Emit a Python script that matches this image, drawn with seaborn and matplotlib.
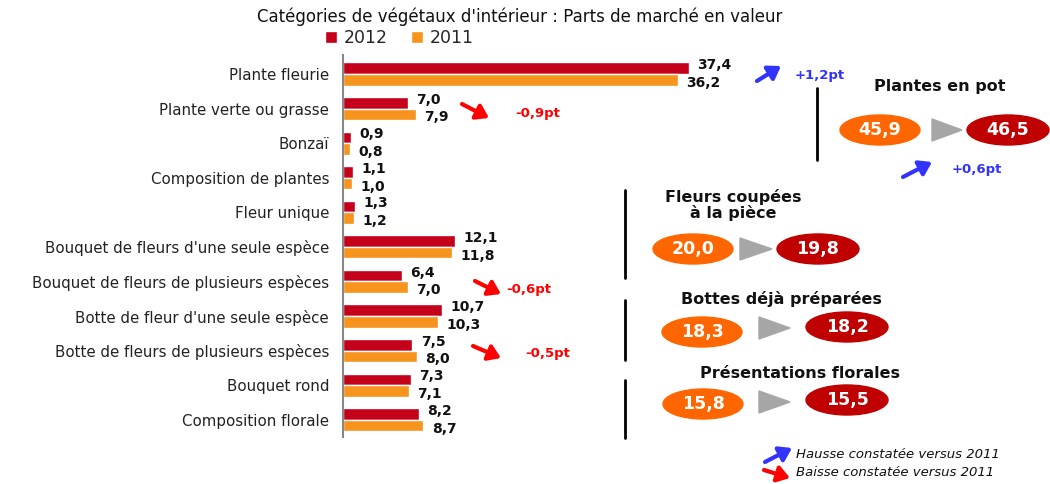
import numpy as np
import pandas as pd
import matplotlib
matplotlib.use('Agg')
import matplotlib.pyplot as plt
import seaborn as sns
from matplotlib.patches import Ellipse, Polygon

categories = ['Plante fleurie', 'Plante verte ou grasse', 'Bonzaï', 'Composition de plantes',
              'Fleur unique', "Bouquet de fleurs d'une seule espèce",
              'Bouquet de fleurs de plusieurs espèces', "Botte de fleur d'une seule espèce",
              'Botte de fleurs de plusieurs espèces', 'Bouquet rond', 'Composition florale']
v2012 = [37.4, 7.0, 0.9, 1.1, 1.3, 12.1, 6.4, 10.7, 7.5, 7.3, 8.2]
v2011 = [36.2, 7.9, 0.8, 1.0, 1.2, 11.8, 7.0, 10.3, 8.0, 7.1, 8.7]

segments = ['Plantes en pot', 'Fleurs coupées\nà la pièce', 'Bottes déjà préparées', 'Présentations florales']
seg2011 = [45.9, 20.0, 18.3, 15.8]
seg2012 = [46.5, 19.8, 18.2, 15.5]

RED = '#C4001A'
ORANGE = '#F7941D'
ELL_OR = '#FF6600'
ELL_RED = '#C00000'
BLUE = '#3333FF'
ARR_RED = '#FF0000'


def fmt(v):
    return f'{v:.1f}'.replace('.', ',')


df = pd.DataFrame({
    'cat': categories * 2,
    'val': v2012 + v2011,
    'year': ['2012'] * len(categories) + ['2011'] * len(categories),
})

sns.set_theme(style='white')
plt.rcParams['font.family'] = ['DejaVu Sans']

W, H = 1050, 484
fig = plt.figure(figsize=(10.5, 4.84), dpi=100)
ax = fig.add_axes([343 / W, 47 / H, (W - 343) / W, (437 - 55) / H])

sns.barplot(data=df, y='cat', x='val', hue='year', hue_order=['2012', '2011'],
            palette=[RED, ORANGE], orient='h', width=0.67, saturation=1, ax=ax)
ax.set_xlim(0, (W - 343) / 9.25)
ax.set_ylim(10.5, -0.55)
ax.set_xlabel('')
ax.set_ylabel('')
ax.set_xticks([])
for s in ['top', 'right', 'bottom']:
    ax.spines[s].set_visible(False)
ax.spines['left'].set_color('#888888')
ax.spines['left'].set_linewidth(1.5)
ax.tick_params(axis='y', length=0, pad=10, labelsize=10.8, labelcolor='#222222')

for cont, vals, dy in zip(ax.containers, [v2012, v2011], [2.2, -2.2]):
    anns = ax.bar_label(cont, labels=[fmt(v) for v in vals], padding=6,
                        fontsize=10, fontweight='bold', color='#111111')
    for t in anns:
        t.xyann = (6, dy)

ax.legend(loc='center left', bbox_to_anchor=(325 / W, 1 - 38 / H), bbox_transform=fig.transFigure,
          ncol=2, frameon=False, handlelength=0.7, handleheight=0.7, handletextpad=0.4,
          columnspacing=1.3, fontsize=12.5, borderpad=0, borderaxespad=0)

fig.text(0.495, 1 - 17 / H, "Catégories de végétaux d'intérieur : Parts de marché en valeur",
         ha='center', va='center', fontsize=12, color='#111111')

# overlay in pixel coordinates for the side annotations
ov = fig.add_axes([0, 0, 1, 1], facecolor='none')
ov.set_xlim(0, W)
ov.set_ylim(H, 0)
ov.axis('off')


def arrow(x0, y0, x1, y1, color):
    ov.annotate('', xy=(x1, y1), xytext=(x0, y0),
                arrowprops=dict(arrowstyle='-|>,head_length=0.6,head_width=0.4', lw=3,
                                color=color, shrinkA=0, shrinkB=0, mutation_scale=12))


# change arrows next to the bars
arrow(757, 81, 781, 66, BLUE)
ov.text(795, 75, '+1,2pt', color=BLUE, fontsize=9.5, fontweight='bold', va='center')
arrow(462, 104, 489, 118, ARR_RED)
ov.text(515, 113, '-0,9pt', color=ARR_RED, fontsize=9.5, fontweight='bold', va='center')
arrow(475, 281, 501, 294, ARR_RED)
ov.text(506, 289, '-0,6pt', color=ARR_RED, fontsize=9.5, fontweight='bold', va='center')
arrow(473, 346, 501, 358, ARR_RED)
ov.text(525, 354, '-0,5pt', color=ARR_RED, fontsize=9.5, fontweight='bold', va='center')

# segment summaries
blocks = [
    dict(line=(817, 88, 160), title=(940, 87), e1=(880, 130), tri=(932, 962, 130), e2=(1008, 130)),
    dict(line=(625, 190, 278), title=(733, 205), e1=(693, 249), tri=(740, 772, 249), e2=(818, 249)),
    dict(line=(625, 300, 360), title=(781, 299), e1=(702, 332), tri=(759, 790, 328), e2=(847, 327)),
    dict(line=(625, 380, 438), title=(800, 373), e1=(703, 404), tri=(759, 790, 402), e2=(847, 400)),
]
for b, name, a, c in zip(blocks, segments, seg2011, seg2012):
    lx, ly0, ly1 = b['line']
    ov.plot([lx, lx], [ly0, ly1], color='black', lw=2)
    ov.text(*b['title'], name, ha='center', va='center', fontsize=11.5, fontweight='bold',
            color='#111111', linespacing=1.0)
    ov.add_patch(Ellipse(b['e1'], 80, 30, color=ELL_OR))
    ov.text(*b['e1'], fmt(a), ha='center', va='center', color='white', fontsize=12.5, fontweight='bold')
    ov.add_patch(Ellipse(b['e2'], 82, 30, color=ELL_RED))
    ov.text(*b['e2'], fmt(c), ha='center', va='center', color='white', fontsize=12.5, fontweight='bold')
    tx0, tx1, ty = b['tri']
    ov.add_patch(Polygon([(tx0, ty - 11), (tx0, ty + 11), (tx1, ty)], color='#A6A6A6'))

arrow(903, 177, 932, 162, BLUE)
ov.text(952, 170, '+0,6pt', color=BLUE, fontsize=9.5, fontweight='bold', va='center')

# bottom legend for arrows
arrow(765, 462, 792, 448, BLUE)
ov.text(796, 455, 'Hausse constatée versus 2011', fontsize=9.5, style='italic', va='center', color='#111111')
arrow(764, 470, 790, 478, ARR_RED)
ov.text(796, 473, 'Baisse constatée versus 2011', fontsize=9.5, style='italic', va='center', color='#111111')

fig.savefig('out.png', dpi=100)
